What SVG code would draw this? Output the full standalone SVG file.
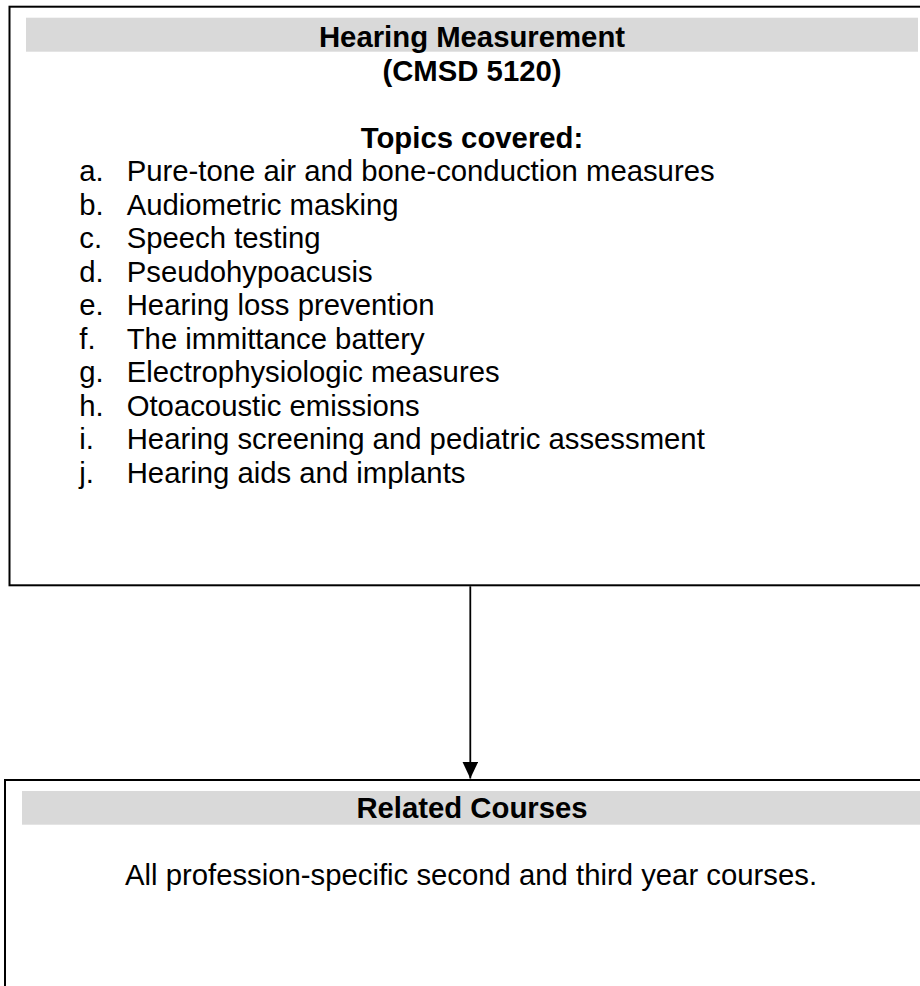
<svg xmlns="http://www.w3.org/2000/svg" width="920" height="986" viewBox="0 0 920 986">
<style>
.box{fill:#ffffff;stroke:#000000;stroke-width:2}
.band{fill:#d9d9d9}
.t{font-family:"Liberation Sans",Arial,sans-serif;font-size:29.3px;fill:#000000}
.b{font-weight:bold;text-anchor:middle}
.c{text-anchor:middle}
.conn{stroke:#000000;stroke-width:1.8;fill:none}
</style>
<defs>
<marker id="arr" viewBox="0 0 17 16" refX="17" refY="8" markerWidth="17" markerHeight="16" markerUnits="userSpaceOnUse" orient="auto">
<path d="M0,0 L17,8 L0,16 Z" fill="#000000"/>
</marker>
</defs>
<rect width="920" height="986" fill="#ffffff"/>
<g id="node-hearing-measurement">
<rect class="box" x="9.5" y="6.7" width="925" height="578.6"/>
<rect class="band" x="26" y="17.7" width="892" height="34"/>
<text class="t b" x="472" y="47">Hearing Measurement</text>
<text class="t b" x="472" y="80.5">(CMSD 5120)</text>
<text class="t b" x="472" y="147.5">Topics covered:</text>
<g class="t">
<text x="79.3" y="181">a.</text><text x="126.7" y="181">Pure-tone air and bone-conduction measures</text>
<text x="79.3" y="214.5">b.</text><text x="126.7" y="214.5">Audiometric masking</text>
<text x="79.3" y="248">c.</text><text x="126.7" y="248">Speech testing</text>
<text x="79.3" y="281.5">d.</text><text x="126.7" y="281.5">Pseudohypoacusis</text>
<text x="79.3" y="315">e.</text><text x="126.7" y="315">Hearing loss prevention</text>
<text x="79.3" y="348.5">f.</text><text x="126.7" y="348.5">The immittance battery</text>
<text x="79.3" y="382">g.</text><text x="126.7" y="382">Electrophysiologic measures</text>
<text x="79.3" y="415.5">h.</text><text x="126.7" y="415.5">Otoacoustic emissions</text>
<text x="79.3" y="449">i.</text><text x="126.7" y="449">Hearing screening and pediatric assessment</text>
<text x="79.3" y="482.5">j.</text><text x="126.7" y="482.5">Hearing aids and implants</text>
</g>
</g>
<g id="node-related-courses">
<rect class="box" x="5" y="780" width="934" height="230"/>
<rect class="band" x="22" y="791" width="900" height="33.7"/>
<text class="t b" x="472" y="817.7">Related Courses</text>
<text class="t c" x="471" y="885">All profession-specific second and third year courses.</text>
</g>
<g id="connectors">
<line class="conn" x1="470.3" y1="586.3" x2="470.3" y2="778.5" marker-end="url(#arr)"/>
</g>
</svg>
